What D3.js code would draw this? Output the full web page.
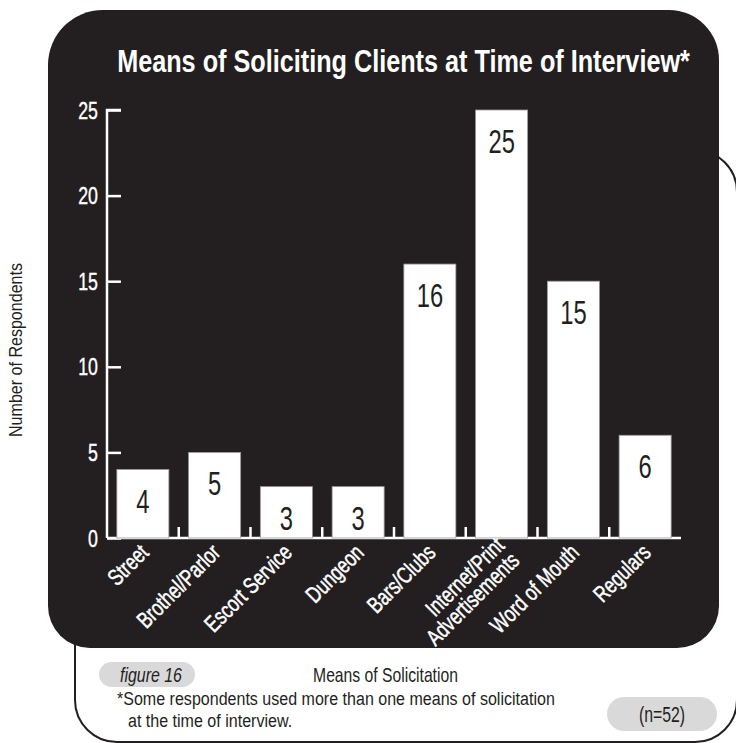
<!DOCTYPE html>
<html><head><meta charset="utf-8">
<script src="https://cdn.jsdelivr.net/npm/d3@7"></script>
<style>
html,body{margin:0;padding:0;background:#fff;}
svg{display:block;}
text{font-family:"Liberation Sans","Roboto",sans-serif;}
</style></head>
<body>
<svg id="chart" width="736" height="743"></svg>
<script>
const categories = ["Street","Brothel/Parlor","Escort Service","Dungeon","Bars/Clubs","Internet/Print\nAdvertisements","Word of Mouth","Regulars"];
const values = [4,5,3,3,16,25,15,6];
const yTicks = [0,5,10,15,20,25];
const title = "Means of Soliciting Clients at Time of Interview*";
const yLabel = "Number of Respondents";
const xLabel = "Means of Solicitation";
const figLabel = "figure 16";
const footnote = ["*Some respondents used more than one means of solicitation","at the time of interview."];
const nLabel = "(n=52)";

const svg = d3.select("#chart");
const dark = "#231f20";

function ctext(parent, x, y, str, o){
  o = o || {};
  const g = parent.append("g");
  const t = g.append("text").attr("text-anchor", o.anchor || "start")
    .attr("fill", o.fill || dark).attr("font-size", o.size || 16)
    .attr("font-weight", o.weight || "normal").attr("font-style", o.style || "normal");
  if (o.thick) t.attr("stroke", o.fill || dark).attr("stroke-width", o.thick);
  const lines = String(str).split("\n");
  if (lines.length > 1) {
    t.selectAll("tspan").data(lines).join("tspan").attr("x",0)
      .attr("dy",(l,j)=>j===0?0:(o.lh||"1.05em")).text(l=>l);
  } else t.text(str);
  let s = o.sx || 0.8;
  if (o.width) s = o.width / t.node().getComputedTextLength();
  g.attr("transform", `translate(${x},${y})` + (o.rotate?` rotate(${o.rotate})`:"") + ` scale(${s},1)`);
  return g;
}

// outline frame
svg.append("rect").attr("x",75).attr("y",150).attr("width",662).attr("height",592)
  .attr("rx",42).attr("ry",42).attr("fill","#fff").attr("stroke",dark).attr("stroke-width",2);

function roundedPath(x0,y0,x1,y1,rtl,rtr,rbr,rbl){
  const p = d3.path();
  p.moveTo(x0+rtl,y0);
  p.lineTo(x1-rtr,y0);
  p.arcTo(x1,y0,x1,y0+rtr,rtr);
  p.lineTo(x1,y1-rbr);
  p.arcTo(x1,y1,x1-rbr,y1,rbr);
  p.lineTo(x0+rbl,y1);
  p.arcTo(x0,y1,x0,y1-rbl,rbl);
  p.lineTo(x0,y0+rtl);
  p.arcTo(x0,y0,x0+rtl,y0,rtl);
  p.closePath();
  return p.toString();
}
svg.append("path").attr("d",roundedPath(48,10,719,648,55,50,42,42)).attr("fill",dark);

// title
ctext(svg, 403.5, 72, title, {anchor:"middle", fill:"#fff", size:31, weight:"bold", width:573});

// scales
const x = d3.scaleBand().domain(categories).range([107,681]).paddingInner(0.275).paddingOuter(0.1375);
const y = d3.scaleLinear().domain([0,25]).range([538,110]);

// y axis
const yAxis = d3.axisRight(y).tickValues(yTicks).tickSize(14).tickFormat("");
const gy = svg.append("g").attr("transform","translate(107,0)").call(yAxis);
gy.selectAll("path,line").attr("stroke","#fff").attr("stroke-width",2.5);
gy.select(".domain").attr("d",`M14,${y(25)}H0V${y(0)}`);
const yt = svg.append("g");
yTicks.forEach(d => ctext(yt, 98, y(d)+8.5, d, {anchor:"end", fill:"#fff", size:24, sx:0.74, thick:0.4}));

// x baseline and small separators
svg.append("line").attr("x1",107).attr("x2",681).attr("y1",y(0)).attr("y2",y(0))
  .attr("stroke","#fff").attr("stroke-width",2.5);
const seps = categories.slice(0,-1).map((c,i)=>x(c)+x.bandwidth()+x.step()*x.paddingInner()/2);
svg.append("g").selectAll("line").data(seps).join("line")
  .attr("x1",d=>d).attr("x2",d=>d).attr("y1",y(0)).attr("y2",y(0)-11)
  .attr("stroke","#fff").attr("stroke-width",2.5);

// bars
svg.append("g").selectAll("rect").data(values).join("rect")
  .attr("x",(d,i)=>x(categories[i])).attr("width",x.bandwidth())
  .attr("y",d=>y(d)).attr("height",d=>y(0)-y(d))
  .attr("fill","#fff").attr("stroke","#9a9a9a").attr("stroke-width",0.8);

// value labels
const vl = svg.append("g");
values.forEach((d,i)=>ctext(vl, x(categories[i])+x.bandwidth()/2, y(d)+43, d,
  {anchor:"middle", size:33, sx:0.72}));

// x labels
const xg = svg.append("g");
categories.forEach(c=>{
  const cx = x(c)+x.bandwidth()/2;
  const multi = c.includes("\n");
  ctext(xg, cx+(multi?4:7), y(0)+(multi?9:16), c,
    {anchor:"end", fill:"#fff", size:23, sx:0.76, rotate:-45, lh:"0.92em", thick:0.5});
});

// y axis title
ctext(svg, 22, 350, yLabel, {anchor:"middle", size:18, width:174, rotate:-90});

// figure pill
svg.append("rect").attr("x",99).attr("y",662).attr("width",96).attr("height",25).attr("rx",12.5)
  .attr("fill","#d9d9d9");
ctext(svg, 120, 682, figLabel, {size:21, style:"italic", width:62});

ctext(svg, 385.5, 682, xLabel, {anchor:"middle", size:21, width:145});

const fn = svg.append("g");
const g1 = ctext(fn, 117, 705, footnote[0], {size:19, width:438});
const s1 = 438 / g1.select("text").node().getComputedTextLength();
ctext(fn, 128, 727, footnote[1], {size:19, sx:s1});

// n pill
svg.append("rect").attr("x",607).attr("y",697).attr("width",110).attr("height",34).attr("rx",17)
  .attr("fill","#d9d9d9");
ctext(svg, 662, 722, nLabel, {anchor:"middle", size:22, sx:0.72});
</script>
</body></html>
